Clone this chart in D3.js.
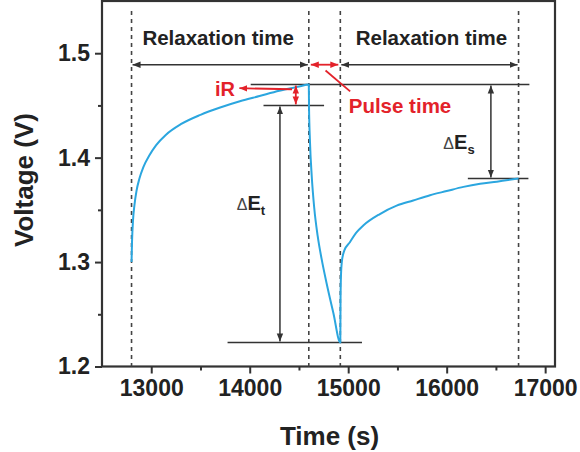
<!DOCTYPE html>
<html>
<head>
<meta charset="utf-8">
<script src="https://cdn.jsdelivr.net/npm/d3@7"></script>
<style>
  html, body { margin: 0; padding: 0; background: #fff; }
  svg { display: block; font-family: "Liberation Sans", Arial, sans-serif; }
</style>
</head>
<body>
<svg id="chart" width="580" height="452"></svg>
<script>
// Voltage response: relaxation -> current pulse -> relaxation
const time = [
  12800, 12805, 12815, 12830, 12850, 12880, 12920, 12980, 13050, 13150, 13300, 13500,
  13700, 13900, 14100, 14300, 14500, 14600,
  14602, 14612, 14630, 14655, 14690, 14730, 14780, 14850, 14920,
  14922, 14926, 14935, 14960, 15017, 15080, 15153, 15322, 15492, 15660, 15831, 16000,
  16170, 16340, 16509, 16730
];
const voltage = [
  1.300, 1.320, 1.340, 1.355, 1.368, 1.380, 1.391, 1.402, 1.412, 1.422, 1.432, 1.441,
  1.448, 1.454, 1.459, 1.464, 1.468, 1.470,
  1.450, 1.415, 1.382, 1.352, 1.325, 1.303, 1.280, 1.251, 1.223,
  1.260, 1.285, 1.300, 1.311, 1.319, 1.328, 1.335, 1.346, 1.354, 1.359, 1.364, 1.368,
  1.372, 1.375, 1.377, 1.380
];

const xTicks = [13000, 14000, 15000, 16000, 17000];
const xMinor = [13500, 14500, 15500, 16500];
const yTicks = [1.2, 1.3, 1.4, 1.5];
const yMinor = [1.25, 1.35, 1.45];

// Step boundaries (dashed guides)
const stepTimes = [12800, 14600, 14920, 16730];
// Reference potentials
const levelTop = 1.47, levelIR = 1.45, levelPulseEnd = 1.223, levelRelaxEnd = 1.38;
const spanLevel = 1.489;

const svg = d3.select("#chart");
const plotL = 102, plotR = 555, plotT = 1, plotB = 366.5;

const x = d3.scaleLinear().domain([12500, 17100]).range([plotL, plotR]);
const y = d3.scaleLinear().domain([1.2, 1.55]).range([plotB, plotT]);

const dark = "#333";
const red = "#e3222a";
const blue = "#2ba6df";

// arrowheads
const defs = svg.append("defs");
function marker(id, color, size) {
  defs.append("marker")
    .attr("id", id)
    .attr("viewBox", "0 0 10 10")
    .attr("refX", 10).attr("refY", 5)
    .attr("markerWidth", size).attr("markerHeight", size)
    .attr("markerUnits", "userSpaceOnUse")
    .attr("orient", "auto-start-reverse")
    .append("path")
    .attr("d", "M0,1 L10,5 L0,9 Z")
    .attr("fill", color);
}
marker("arrBlack", dark, 8);
marker("arrRed", red, 8);

// axes
const xAxis = svg.append("g").attr("transform", `translate(0,${plotB})`)
  .call(d3.axisBottom(x).tickValues(xTicks).tickSize(7).tickSizeOuter(0).tickPadding(5).tickFormat(d3.format("d")));
svg.append("g").attr("transform", `translate(0,${plotB})`)
  .call(d3.axisBottom(x).tickValues(xMinor).tickSize(4).tickSizeOuter(0).tickFormat(""));
const yAxis = svg.append("g").attr("transform", `translate(${plotL},0)`)
  .call(d3.axisLeft(y).tickValues(yTicks).tickSize(7).tickSizeOuter(0).tickPadding(5).tickFormat(d3.format(".1f")));
svg.append("g").attr("transform", `translate(${plotL},0)`)
  .call(d3.axisLeft(y).tickValues(yMinor).tickSize(4).tickSizeOuter(0).tickFormat(""));

svg.selectAll(".domain").remove();
svg.selectAll(".tick line").attr("stroke", dark).attr("stroke-width", 2);
svg.selectAll(".tick text")
  .attr("font-size", 23).attr("font-weight", "bold").attr("fill", "#222")
  .attr("font-family", "Liberation Sans, Arial, sans-serif");
xAxis.selectAll(".tick text").attr("dy", "0.75em");

// frame
svg.append("rect")
  .attr("x", plotL).attr("y", plotT)
  .attr("width", plotR - plotL).attr("height", plotB - plotT)
  .attr("fill", "none").attr("stroke", dark).attr("stroke-width", 2.2);

// dashed step guides
svg.append("g").selectAll("line").data(stepTimes).join("line")
  .attr("x1", d => x(d)).attr("x2", d => x(d))
  .attr("y1", plotT + 10).attr("y2", plotB)
  .attr("stroke", "#444").attr("stroke-width", 1.6)
  .attr("stroke-dasharray", "4,4");

// horizontal reference lines
const hLines = [
  { v: levelTop, t0: 14010, t1: 16840 },
  { v: levelIR, t0: 14140, t1: 14755 },
  { v: levelPulseEnd, t0: 13775, t1: 15140 },
  { v: levelRelaxEnd, t0: 16215, t1: 16830 }
];
svg.append("g").selectAll("line").data(hLines).join("line")
  .attr("x1", d => x(d.t0)).attr("x2", d => x(d.t1))
  .attr("y1", d => y(d.v)).attr("y2", d => y(d.v))
  .attr("stroke", dark).attr("stroke-width", 1.6);

// curve
svg.append("path")
  .datum(time.map((t, i) => [t, voltage[i]]))
  .attr("fill", "none").attr("stroke", blue).attr("stroke-width", 2)
  .attr("stroke-linejoin", "round")
  .attr("d", d3.line().curve(d3.curveMonotoneX).x(d => x(d[0])).y(d => y(d[1])));

// double-headed arrows
function dArrow(x1, y1, x2, y2, color, id, w) {
  svg.append("line")
    .attr("x1", x1).attr("y1", y1).attr("x2", x2).attr("y2", y2)
    .attr("stroke", color).attr("stroke-width", w || 1.5)
    .attr("marker-start", `url(#${id})`).attr("marker-end", `url(#${id})`);
}
// relaxation / pulse spans
dArrow(x(stepTimes[0]) + 1, y(spanLevel), x(stepTimes[1]) - 1, y(spanLevel), dark, "arrBlack");
dArrow(x(stepTimes[1]) + 2, y(spanLevel), x(stepTimes[2]) - 2, y(spanLevel), red, "arrRed", 1.8);
dArrow(x(stepTimes[2]) + 1, y(spanLevel), x(stepTimes[3]) - 1, y(spanLevel), dark, "arrBlack");
// potential differences
dArrow(x(14307), y(levelIR) + 1, x(14307), y(levelPulseEnd) - 1, dark, "arrBlack");
dArrow(x(16449), y(levelTop) + 1, x(16449), y(levelRelaxEnd) - 1, dark, "arrBlack");
dArrow(x(14468), y(levelTop) + 1, x(14468), y(levelIR) - 1, red, "arrRed", 1.8);

// iR pointer
svg.append("line")
  .attr("x1", x(14430)).attr("y1", y(1.4655)).attr("x2", x(13895)).attr("y2", y(1.4665))
  .attr("stroke", red).attr("stroke-width", 1.8).attr("marker-end", "url(#arrRed)");
// pulse pointer
svg.append("line")
  .attr("x1", x(14770)).attr("y1", y(1.4835)).attr("x2", x(15020)).attr("y2", y(1.4635))
  .attr("stroke", red).attr("stroke-width", 1.8);

// text labels
const label = (tx, ty, txt, color, size) => svg.append("text")
  .attr("x", tx).attr("y", ty).attr("text-anchor", "middle")
  .attr("font-size", size).attr("font-weight", "bold").attr("fill", color).text(txt);

label((x(stepTimes[0]) + x(stepTimes[1])) / 2 - 2, y(1.5095) + 2, "Relaxation time", "#222", 20.5);
label((x(stepTimes[2]) + x(stepTimes[3])) / 2 + 2, y(1.5095) + 2, "Relaxation time", "#222", 20.5);
label(400, y(1.4425), "Pulse time", red, 20.5);
label(225, y(1.4595), "iR", red, 20);

function deltaLabel(cx, cy, sub) {
  const t = svg.append("text").attr("x", cx).attr("y", cy).attr("text-anchor", "middle").attr("fill", "#222");
  t.append("tspan").attr("font-size", 16).attr("fill", "#444").text("\u0394");
  t.append("tspan").attr("font-size", 20).attr("font-weight", "bold").text("E");
  t.append("tspan").attr("font-size", 13).attr("font-weight", "bold").attr("dy", 5).text(sub);
}
deltaLabel(251, 210, "t");
deltaLabel(459, 149, "s");

// axis titles
svg.append("text")
  .attr("x", (plotL + plotR) / 2 + 1).attr("y", 445).attr("text-anchor", "middle")
  .attr("font-size", 26).attr("font-weight", "bold").attr("fill", "#222")
  .text("Time (s)");
svg.append("text")
  .attr("transform", `translate(33,180) rotate(-90)`)
  .attr("text-anchor", "middle")
  .attr("font-size", 26).attr("font-weight", "bold").attr("fill", "#222")
  .text("Voltage (V)");
</script>
</body>
</html>
